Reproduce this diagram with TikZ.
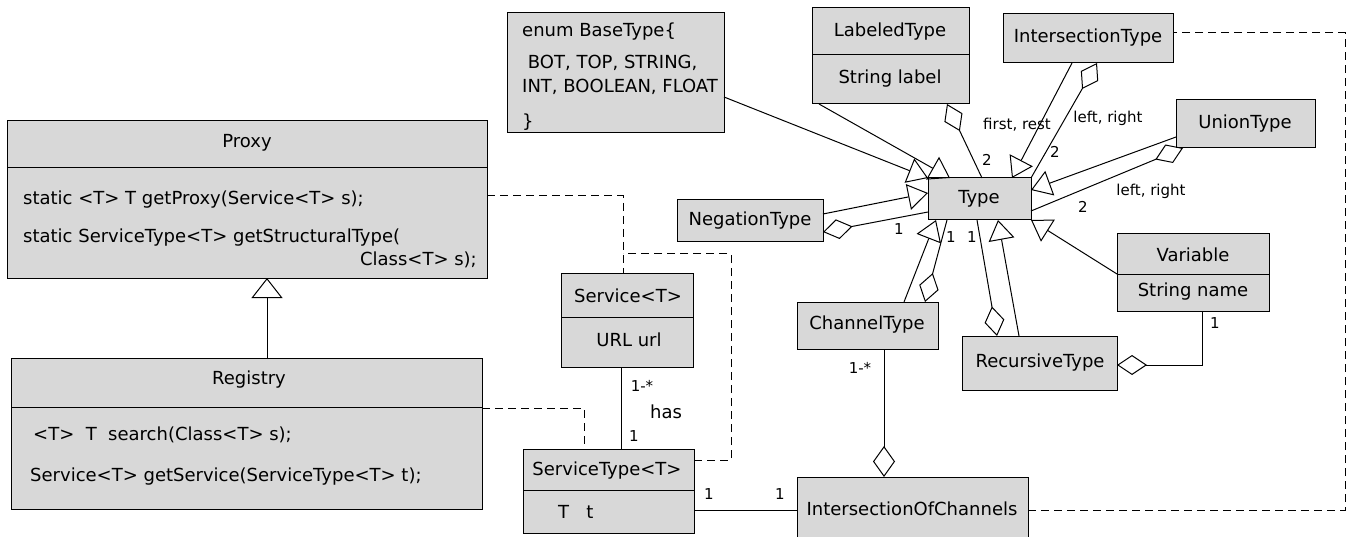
\documentclass[tikz,border=0pt]{standalone}
\usepackage{fontspec}
\setmainfont{DejaVu Sans}
\usetikzlibrary{arrows.meta}
\definecolor{boxgray}{RGB}{216,216,216}
\begin{document}
\begin{tikzpicture}[x=1pt,y=-1pt,
  cls/.style={draw, fill=boxgray, line width=1pt, anchor=north west, outer sep=0pt, inner sep=0pt},
  txt/.style={inner sep=0pt, font=\fontsize{18}{21}\selectfont},
  lbl/.style={inner sep=0pt, font=\fontsize{15}{18}\selectfont},
  conn/.style={line width=1pt},
  gen/.style={conn, -{Triangle[open, length=20pt, width=26pt, line width=1pt]}},
  agg/.style={conn, {Diamond[open, length=30pt, width=20pt, line width=1pt]}-},
  dep/.style={line width=1pt, dash pattern=on 8pt off 5pt},
]
\fill[white] (0,0) rectangle (1351,537);
\useasboundingbox (0,0) rectangle (1351,537);

% ---------- class boxes ----------
\node[cls, minimum width=217pt, minimum height=120pt] (base) at (507,13) {};
\node[cls, minimum width=157pt, minimum height=96pt] (lab) at (812,8) {};
\node[cls, minimum width=170pt, minimum height=49pt] (inter) at (1003,14) {};
\node[cls, minimum width=139pt, minimum height=48pt] (union) at (1176,100) {};
\node[cls, minimum width=103pt, minimum height=42pt] (type) at (928,178) {};
\node[cls, minimum width=146pt, minimum height=42pt] (neg) at (677,200) {};
\node[cls, minimum width=152pt, minimum height=77pt] (var) at (1117,234) {};
\node[cls, minimum width=141pt, minimum height=47pt] (chan) at (797,302) {};
\node[cls, minimum width=155pt, minimum height=54pt] (rec) at (962,336) {};
\node[cls, minimum width=132pt, minimum height=94pt] (serv) at (561,273) {};
\node[cls, minimum width=171pt, minimum height=84pt] (stype) at (523,449) {};
\node[cls, minimum width=231pt, minimum height=68pt] (ioc) at (797,477) {};
\node[cls, minimum width=480pt, minimum height=157pt] (proxy) at (7,121) {};
\node[cls, minimum width=471pt, minimum height=151pt] (reg) at (11,358) {};

% dividers
\draw[conn] ([yshift=-47pt]lab.north west) -- ([yshift=-47pt]lab.north east);
\draw[conn] ([yshift=-40pt]var.north west) -- ([yshift=-40pt]var.north east);
\draw[conn] ([yshift=-44pt]serv.north west) -- ([yshift=-44pt]serv.north east);
\draw[conn] ([yshift=-41pt]stype.north west) -- ([yshift=-41pt]stype.north east);
\draw[conn] ([yshift=-47pt]proxy.north west) -- ([yshift=-47pt]proxy.north east);
\draw[conn] ([yshift=-49pt]reg.north west) -- ([yshift=-49pt]reg.north east);

% ---------- texts ----------
\node[txt, anchor=west] (bt1) at (522,32) {enum BaseType\{};
\node[txt, anchor=west] (bt2) at (522,63) {\ BOT, TOP, STRING,};
\node[txt, anchor=west] (bt3) at (522,87) {INT, BOOLEAN, FLOAT};
\node[txt, anchor=west] (bt4) at (522,122) {\}};
\node[txt] (labn) at (890,32) {LabeledType};
\node[txt] (labf) at (890,79) {String label};
\node[txt] (intn) at (1088,38) {IntersectionType};
\node[txt] (unin) at (1245,124) {UnionType};
\node[txt] (typn) at (979,199) {Type};
\node[txt] (negn) at (750,221) {NegationType};
\node[txt] (varn) at (1193,255) {Variable};
\node[txt] (varf) at (1193,292) {String name};
\node[txt] (chn) at (867,325) {ChannelType};
\node[txt] (recn) at (1040,363) {RecursiveType};
\node[txt] (srvn) at (628,296) {Service<T>};
\node[txt] (srvf) at (629,340) {URL url};
\node[txt] (stn) at (607,471) {ServiceType<T>};
\node[txt, anchor=west] (stf) at (558,512) {T\ \ \ t};
\node[txt] (iocn) at (912,509) {IntersectionOfChannels};
\node[txt] (prn) at (247,143) {Proxy};
\node[txt, anchor=west] (pr1) at (23,200) {static <T> T getProxy(Service<T> s);};
\node[txt, anchor=west] (pr2) at (23,238) {static ServiceType<T> getStructuralType(};
\node[txt, anchor=east] (pr3) at (477,260) {Class<T> s);};
\node[txt] (rgn) at (249,380) {Registry};
\node[txt, anchor=west] (rg1) at (33,435) {<T>\ \ T\ \ search(Class<T> s);};
\node[txt, anchor=west] (rg2) at (30,477) {Service<T> getService(ServiceType<T> t);};

% ---------- connectors ----------
\draw[gen] ([yshift=-84pt]base.north east) -- (type.north west);
\draw[gen] ([xshift=7pt]lab.south west) -- ([xshift=22pt]type.north west);
\draw[agg] ([xshift=135pt]lab.south west) -- ([xshift=54pt]type.north west);
\draw[gen] ([xshift=69pt]inter.south west) -- ([xshift=84pt]type.north west);
\draw[agg] ([xshift=94pt]inter.south west) -- (type.north east);
\draw[gen] ([yshift=-37pt]union.north west) -- ([yshift=-12pt]type.north east);
\draw[agg] ([xshift=7pt]union.south west) -- ([yshift=9pt]type.south east);
\draw[gen] ([yshift=-14pt]neg.north east) -- ([yshift=-15pt]type.north west);
\draw[agg] ([yshift=10pt]neg.south east) -- ([yshift=8pt]type.south west);
\draw[gen] ([xshift=107pt]chan.north west) -- ([xshift=8pt]type.south west);
\draw[agg] ([xshift=128pt]chan.north west) -- ([xshift=19pt]type.south west);
\draw[gen] ([xshift=57pt]rec.north west) -- ([xshift=70pt]type.south west);
\draw[agg] ([xshift=35pt]rec.north west) -- ([xshift=49pt]type.south west);
\draw[gen] ([yshift=-40pt]var.north west) -- (type.south east);
\draw[agg] ([yshift=-29pt]rec.north east) -| ([xshift=85pt]var.south west);
\draw[conn, -{Triangle[open, length=20pt, width=31pt, line width=1pt]}] ([xshift=256pt]reg.north west) -- ([xshift=260pt]proxy.south west);
\draw[conn] ([xshift=60pt]serv.south west) -- ([xshift=98pt]stype.north west);
\draw[conn] ([yshift=-61pt]stype.north east) -- ([yshift=-33pt]ioc.north west);
\draw[conn, {Diamond[open, length=31pt, width=22pt, line width=1pt]}-] ([xshift=87pt]ioc.north west) -- ([xshift=87pt]chan.south west);

\coordinate (j1) at (623,254);
\draw[dep] ([yshift=-75pt]proxy.north east) -| ([xshift=62pt]serv.north west);
\draw[dep] ([yshift=-50pt]reg.north east) -| ([xshift=61pt]stype.north west);
\draw[dep] ([yshift=-11pt]stype.north east) -- ++(37,0) |- (j1);
\draw[dep] ([yshift=-33pt]ioc.north east) -- ++(317,0) |- ([yshift=-19pt]inter.north east);

% ---------- labels ----------
\node[lbl] (l1) at (1017,125) {first, rest};
\node[lbl] (l2) at (987,160) {2};
\node[lbl] (l3) at (1108,118) {left, right};
\node[lbl] (l4) at (1055,152) {2};
\node[lbl] (l5) at (1151,191) {left, right};
\node[lbl] (l6) at (1083,207) {2};
\node[lbl] (l7) at (899,229) {1};
\node[lbl] (l8) at (951,237) {1};
\node[lbl] (l9) at (972,237) {1};
\node[lbl] (l10) at (1215,323) {1};
\node[lbl] (l11) at (642,386) {1-*};
\node[txt] (l12) at (666,412) {has};
\node[lbl] (l13) at (634,436) {1};
\node[lbl] (l14) at (709,494) {1};
\node[lbl] (l15) at (780,494) {1};
\node[lbl] (l16) at (860,368) {1-*};
\end{tikzpicture}
\end{document}
